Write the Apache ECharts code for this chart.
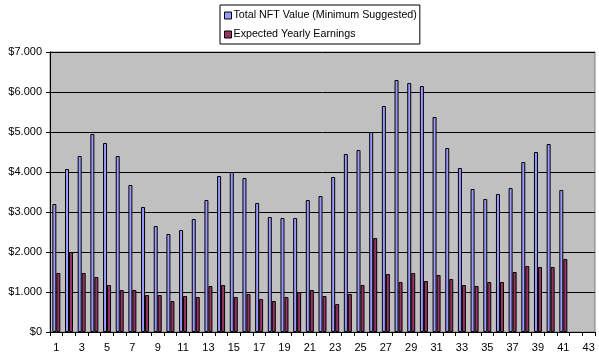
<!DOCTYPE html>
<html>
<head>
<meta charset="utf-8">
<script src="https://cdn.jsdelivr.net/npm/echarts@6/dist/echarts.min.js"></script>
<style>
html,body{margin:0;padding:0;background:#fff;}
#chart{width:599px;height:360px;}
</style>
</head>
<body>
<div id="chart"></div>
<script>
var categories = [];
for (var i = 1; i <= 43; i++) categories.push(String(i));

var totalNftValue = [3200,4075,4400,4950,4725,4400,3675,3125,2650,2450,2550,2825,3300,3900,4000,
  3850,3225,2875,2850,2850,3300,3400,3875,4450,4550,5000,5650,6300,6225,6150,
  5375,4600,4100,3575,3325,3450,3600,4250,4500,4700,3550];
var expectedYearlyEarnings = [1475,2000,1475,1375,1175,1050,1050,925,925,775,900,875,1150,1175,875,
  950,825,775,875,1000,1050,900,700,950,1175,2350,1450,1250,1475,1275,
  1425,1325,1175,1150,1250,1250,1500,1650,1625,1625,1825];
var seriesNames = ['Total NFT Value (Minimum Suggested)', 'Expected Yearly Earnings'];

function money(v){
  var s = String(Math.round(v));
  s = s.replace(/\B(?=(\d{3})+(?!\d))/g, '.');
  return '$' + s;
}

var chart = echarts.init(document.getElementById('chart'), null, {renderer:'canvas'});
var font = 'Liberation Sans, Arial, sans-serif';
chart.setOption({
  animation: false,
  backgroundColor: '#ffffff',
  textStyle: {fontFamily: font},
  legend: {
    data: seriesNames,
    orient: 'vertical',
    left: 220,
    top: 5,
    padding: [5, 3, 4, 4],
    itemGap: 8,
    itemWidth: 7,
    itemHeight: 7,
    borderColor: '#000',
    borderWidth: 1,
    backgroundColor: '#fff',
    icon: 'rect',
    itemStyle: {borderColor: '#000', borderWidth: 1},
    textStyle: {fontFamily: font, fontSize: 10.7, color: '#000', padding: [0,0,0,-3]}
  },
  grid: {
    left: 50, right: 4, top: 52, bottom: 28,
    show: true,
    backgroundColor: '#c0c0c0',
    borderColor: '#808080',
    borderWidth: 1
  },
  xAxis: {
    type: 'category',
    data: categories,
    boundaryGap: true,
    axisLine: {lineStyle: {color: '#000', width: 1}},
    axisTick: {show: true, interval: 0, length: 4, lineStyle: {color: '#000'}},
    axisLabel: {interval: 1, color: '#000', fontSize: 11, fontFamily: font, margin: 10}
  },
  yAxis: {
    type: 'value',
    min: 0, max: 7000, interval: 1000,
    axisLine: {show: true, lineStyle: {color: '#000', width: 1}},
    axisTick: {show: true, length: 4, lineStyle: {color: '#000'}},
    axisLabel: {formatter: money, color: '#000', fontSize: 11, fontFamily: font, margin: 8},
    splitLine: {show: true, lineStyle: {color: '#000', width: 1}}
  },
  series: [
    {
      name: seriesNames[0], type: 'bar', data: totalNftValue,
      barWidth: 4, barGap: '0%',
      itemStyle: {color: '#9999ff', borderColor: '#000', borderWidth: 1}
    },
    {
      name: seriesNames[1], type: 'bar', data: expectedYearlyEarnings,
      barWidth: 4, barGap: '0%',
      itemStyle: {color: '#993366', borderColor: '#000', borderWidth: 1}
    }
  ]
});
</script>
</body>
</html>
